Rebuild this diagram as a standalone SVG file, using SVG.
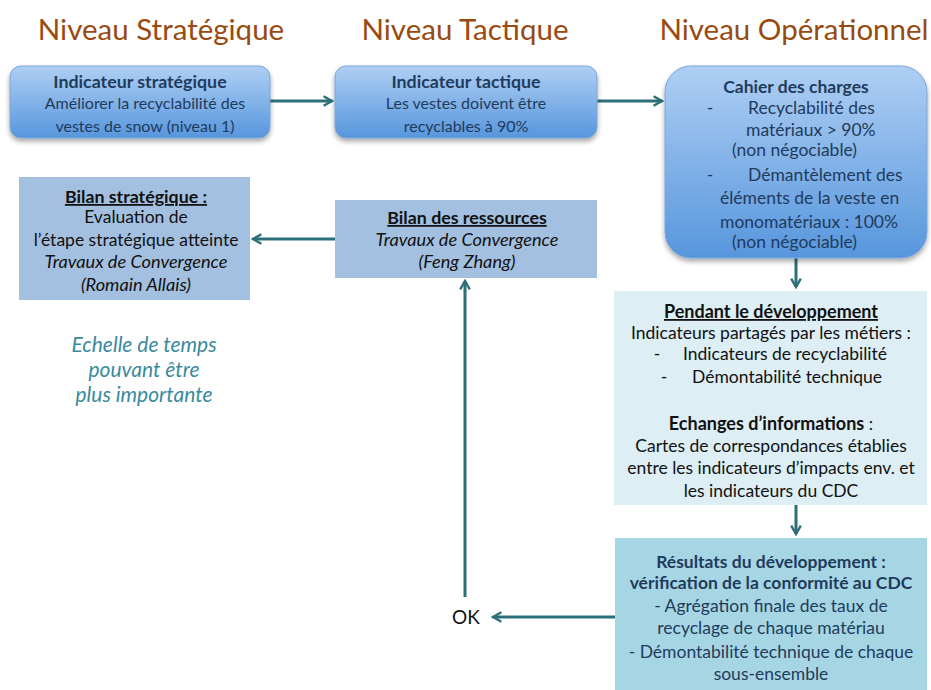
<svg xmlns="http://www.w3.org/2000/svg" width="931" height="690" viewBox="0 0 931 690">
<style>
.hdr{font-family:Lato,"Open Sans",sans-serif;font-size:29.5px;fill:#9A4A10;text-anchor:middle}
.t{font-family:Lato,"Open Sans",sans-serif;font-size:17.5px;text-anchor:middle}
.s{font-size:16px}
.sb{font-size:17.8px}
.nav{fill:#1F3B5C}
.blk{fill:#111}
.b{font-weight:bold}
.i{font-style:italic;font-size:18.2px}
.u{text-decoration:underline}
.teal{fill:#3A8A9E}
.conn{stroke:#2D6F78;stroke-width:3;fill:none}
</style>
<defs>
<linearGradient id="gb" x1="0" y1="0" x2="0" y2="1">
<stop offset="0" stop-color="#AFCFF4"/>
<stop offset="1" stop-color="#5796DD"/>
</linearGradient>
<filter id="sh" x="-10%" y="-10%" width="120%" height="130%">
<feDropShadow dx="0" dy="3" stdDeviation="2.5" flood-color="#000" flood-opacity="0.35"/>
</filter>
<marker id="ah" viewBox="0 0 10 10" refX="8" refY="5" markerWidth="4" markerHeight="4" orient="auto" markerUnits="strokeWidth">
<path d="M1,1 L8,5 L1,9" fill="none" stroke="#2D6F78" stroke-width="2"/>
</marker>
</defs>
<g id="headers">
<text class="hdr" x="161" y="40">Niveau Stratégique</text>
<text class="hdr" x="465" y="40">Niveau Tactique</text>
<text class="hdr" x="794" y="40">Niveau Opérationnel</text>
</g>
<g id="connectors">
<line class="conn" x1="270" y1="101" x2="332" y2="101" marker-end="url(#ah)"/>
<line class="conn" x1="597" y1="101" x2="662" y2="101" marker-end="url(#ah)"/>
<line class="conn" x1="796" y1="258" x2="796" y2="287" marker-end="url(#ah)"/>
<line class="conn" x1="796" y1="505" x2="796" y2="534" marker-end="url(#ah)"/>
<line class="conn" x1="615" y1="617" x2="493" y2="617" marker-end="url(#ah)"/>
<line class="conn" x1="465" y1="597" x2="465" y2="281" marker-end="url(#ah)"/>
<line class="conn" x1="335" y1="239" x2="253" y2="239" marker-end="url(#ah)"/>
</g>
<g id="ind-strat">
<rect x="10" y="66" width="260" height="72" rx="11" fill="url(#gb)" stroke="#7AA6DA" stroke-width="1" filter="url(#sh)"/>
<text class="t nav b sb" x="140" y="88">Indicateur stratégique</text>
<text class="t nav s" x="145" y="109">Améliorer la recyclabilité des</text>
<text class="t nav s" x="145" y="132">vestes de snow (niveau 1)</text>
</g>
<g id="ind-tact">
<rect x="335" y="66" width="262" height="72" rx="11" fill="url(#gb)" stroke="#7AA6DA" stroke-width="1" filter="url(#sh)"/>
<text class="t nav b sb" x="466" y="88">Indicateur tactique</text>
<text class="t nav s" x="466" y="109">Les vestes doivent être</text>
<text class="t nav s" x="466" y="132">recyclables à 90%</text>
</g>
<g id="cdc">
<rect x="665" y="66" width="262" height="192" rx="26" fill="url(#gb)" stroke="#7AA6DA" stroke-width="1" filter="url(#sh)"/>
<text class="t nav b" x="796" y="93">Cahier des charges</text>
<text class="t nav" x="710" y="114">-</text>
<text class="t nav" x="748" y="114" style="text-anchor:start">Recyclabilité des</text>
<text class="t nav" x="746" y="136" style="text-anchor:start">matériaux &gt; 90%</text>
<text class="t nav" x="732" y="156" style="text-anchor:start">(non négociable)</text>
<text class="t nav" x="710" y="181">-</text>
<text class="t nav" x="748" y="181" style="text-anchor:start">Démantèlement des</text>
<text class="t nav" x="720" y="204" style="text-anchor:start">éléments de la veste en</text>
<text class="t nav" x="720" y="228" style="text-anchor:start">monomatériaux : 100%</text>
<text class="t nav" x="732" y="248" style="text-anchor:start">(non négociable)</text>
</g>
<g id="bilan-strat">
<rect x="19" y="177" width="231" height="123" fill="#A4C0E0"/>
<text class="t blk b u sb" x="136" y="203">Bilan stratégique :</text>
<text class="t blk" x="136" y="223">Evaluation de</text>
<text class="t blk" x="136" y="246">l’étape stratégique atteinte</text>
<text class="t blk i" x="136" y="268">Travaux de Convergence</text>
<text class="t blk i" x="136" y="291">(Romain Allais)</text>
</g>
<g id="echelle">
<text class="t teal i" x="144" y="352" style="font-size:21px">Echelle de temps</text>
<text class="t teal i" x="144" y="377" style="font-size:21px">pouvant être</text>
<text class="t teal i" x="144" y="402" style="font-size:21px">plus importante</text>
</g>
<g id="bilan-res">
<rect x="335" y="200" width="262" height="78" fill="#A4C0E0"/>
<text class="t blk b u sb" x="467" y="224">Bilan des ressources</text>
<text class="t blk i" x="467" y="246">Travaux de Convergence</text>
<text class="t blk i" x="467" y="268">(Feng Zhang)</text>
</g>
<g id="pendant">
<rect x="614" y="291" width="313" height="214" fill="#DDEEF5"/>
<text class="t blk b u" x="771" y="318" style="font-size:18px">Pendant le développement</text>
<text class="t blk" x="771" y="339">Indicateurs partagés par les métiers :</text>
<text class="t blk" x="657" y="360">-</text>
<text class="t blk" x="683" y="360" style="text-anchor:start">Indicateurs de recyclabilité</text>
<text class="t blk" x="664" y="383">-</text>
<text class="t blk" x="692" y="383" style="text-anchor:start">Démontabilité technique</text>
<text class="t blk" x="771" y="430"><tspan class="b" style="font-size:18px">Echanges d’informations</tspan> :</text>
<text class="t blk" x="771" y="452">Cartes de correspondances établies</text>
<text class="t blk" x="771" y="474">entre les indicateurs d’impacts env. et</text>
<text class="t blk" x="771" y="497">les indicateurs du CDC</text>
</g>
<g id="resultats">
<rect x="615" y="538" width="312" height="152" fill="#A6D6E4"/>
<text class="t nav b" x="771" y="568">Résultats du développement :</text>
<text class="t nav b" x="771" y="589">vérification de la conformité au CDC</text>
<text class="t nav" x="771" y="612">- Agrégation finale des taux de</text>
<text class="t nav" x="771" y="634">recyclage de chaque matériau</text>
<text class="t nav" x="771" y="658">- Démontabilité technique de chaque</text>
<text class="t nav" x="771" y="680">sous-ensemble</text>
</g>
<g id="ok">
<text class="t blk" x="466" y="624" style="font-size:19px">OK</text>
</g>
</svg>
